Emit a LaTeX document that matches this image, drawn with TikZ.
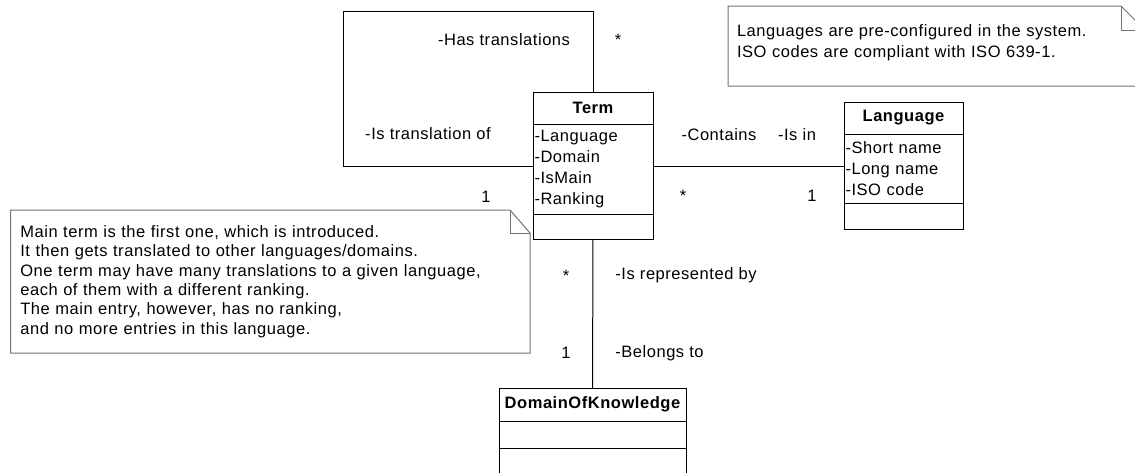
\documentclass[tikz,border=0pt]{standalone}
\usepackage{fontspec}
\setmainfont{Liberation Sans}[LetterSpace=3.3]
\usetikzlibrary{positioning}
\newcommand{\umlfont}{\fontsize{16.5}{20.7}\selectfont}

\begin{document}
\begin{tikzpicture}[x=1pt,y=-1pt,line width=1pt,node distance=0pt,
                    class node/.style={draw,outer sep=0pt,inner sep=0pt,font=\umlfont\bfseries},
                    attr node/.style={draw,outer sep=0pt,inner xsep=1.5pt,inner ysep=0pt,align=left,font=\umlfont},
                    note node/.style={outer sep=0pt,align=left,font=\fontsize{16.5}{19.4}\selectfont},
                    note line/.style={draw=black!55,line width=1pt},
                    label node/.style={inner sep=0pt,font=\umlfont}]
\clip (0,0) rectangle (1135,472);

\node[class node,minimum width=120pt,minimum height=32pt] (1) at (593,108) {Term};
\node[attr node,text width=117pt,minimum height=90pt] (1a) [below=of 1] {-Language\\-Domain\\-IsMain\\-Ranking};
\node[attr node,minimum width=120pt,minimum height=25pt] (1b) [below=of 1a] {};

\node[class node,minimum width=119pt,minimum height=32pt] (2) at (903.5,118) {Language};
\node[attr node,text width=116pt,minimum height=69pt] (2a) [below=of 2] {-Short name\\-Long name\\-ISO code};
\node[attr node,minimum width=119pt,minimum height=26pt] (2b) [below=of 2a] {};

\node[class node,minimum width=187pt,minimum height=33pt] (3) at (592.5,404.5) {DomainOfKnowledge};
\node[attr node,minimum width=187pt,minimum height=27pt] (3a) [below=of 3] {};
\node[attr node,minimum width=187pt,minimum height=32pt] (3b) [below=of 3a] {};

\node[note node,text width=500pt,minimum width=519.3pt,minimum height=143pt] (4) at (270.35,281.5)
  {Main term is the first one, which is introduced.\\It then gets translated to other languages/domains.\\One term may have many translations to a given language,\\each of them with a different ranking.\\The main entry, however, has no ranking,\\and no more entries in this language.};
\node[note node,anchor=north,text width=399pt,inner xsep=9pt,inner ysep=0pt,minimum height=80pt,
      text depth=31.4pt,font=\fontsize{16.5}{21}\selectfont] (5) at (936.5,6)
  {Languages are pre-configured in the system.\\ISO codes are compliant with ISO 639-1.};

\foreach \n/\fx/\fy in {4/20/23,5/24/24}{
  \draw[note line] (\n.north west) -- ([xshift=-\fx pt]\n.north east) -- ([yshift=-\fy pt]\n.north east)
    -- (\n.south east) -- (\n.south west) -- cycle;
  \draw[note line] ([xshift=-\fx pt]\n.north east) |- ([yshift=-\fy pt]\n.north east);
}

\coordinate (c) at (343,11);
\draw (1) |- (c) |- ([yshift=3pt]1a.west);
\path ([yshift=3pt]1a.east) edge ([yshift=2.5pt]2a.west)
      (1b) edge (3);

\node[label node] (l1) at (504,40) {-Has translations};
\node[label node] (l2) at (618,39.5) {*};
\node[label node] (l3) at (428,134) {-Is translation of};
\node[label node] (l4) at (486,197) {1};
\node[label node] (l5) at (719,135) {-Contains};
\node[label node] (l6) at (797,135) {-Is in};
\node[label node] (l7) at (683,195.5) {*};
\node[label node] (l8) at (812,196) {1};
\node[label node] (l9) at (566,275.5) {*};
\node[label node] (l10) at (686,275) {-Is represented by};
\node[label node] (l11) at (566,353) {1};
\node[label node] (l12) at (659.5,353) {-Belongs to};

\end{tikzpicture}
\end{document}
